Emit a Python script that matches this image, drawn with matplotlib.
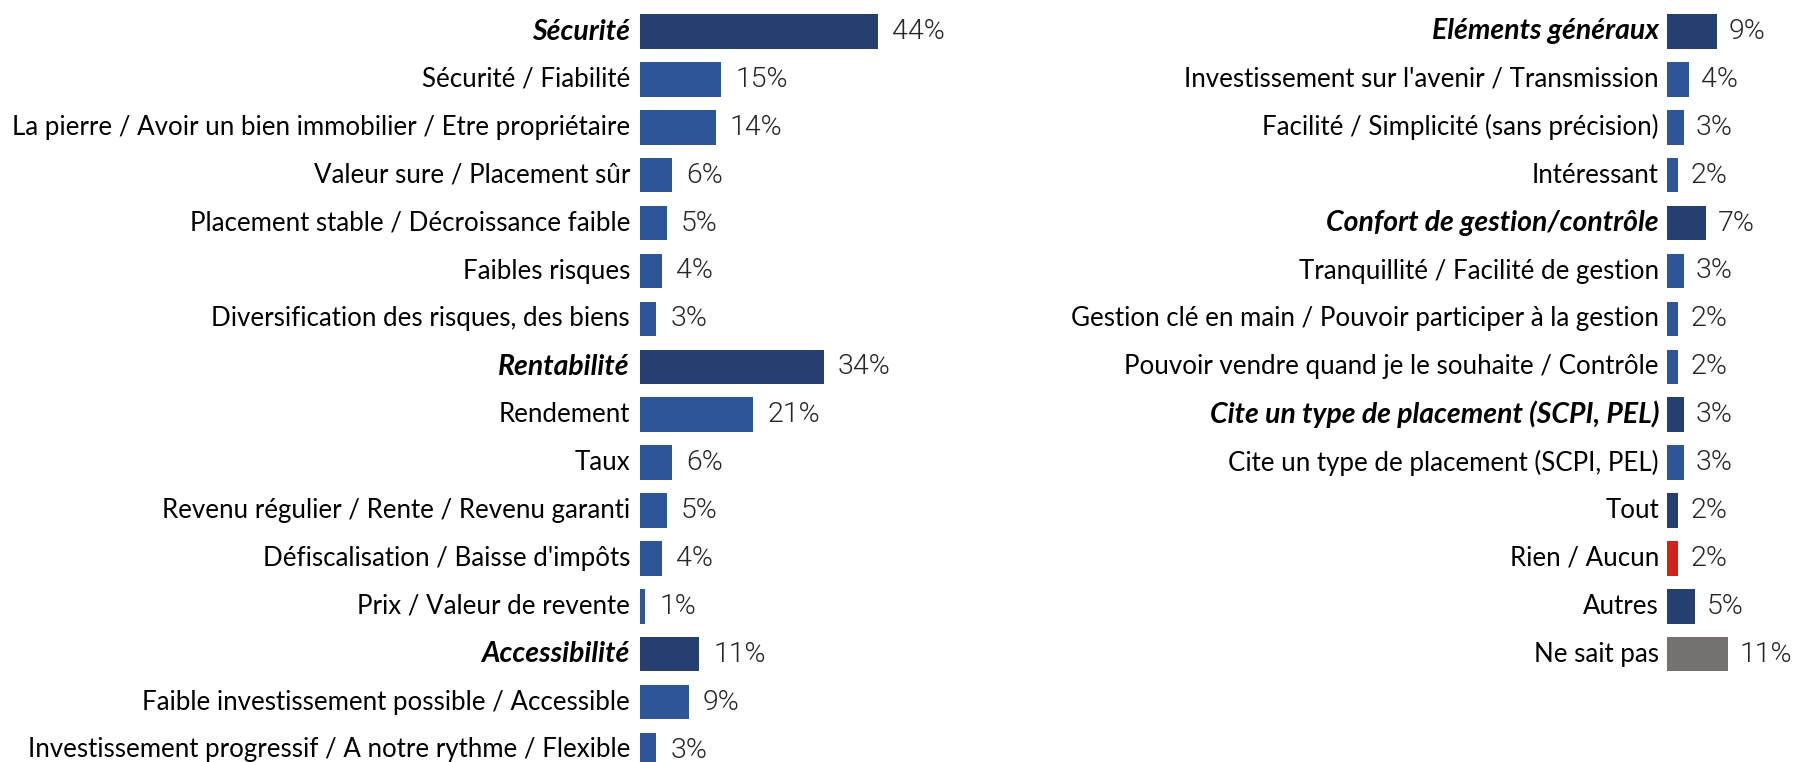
import matplotlib
matplotlib.use("Agg")
import matplotlib.pyplot as plt
from matplotlib import font_manager

names = {f.name for f in font_manager.fontManager.ttflist}
LABEL_FONT = "Lato" if "Lato" in names else "DejaVu Sans"
VALUE_FONT = "Roboto" if "Roboto" in names else "DejaVu Sans"

# ---------------- data ----------------
left_labels = [
    "Sécurité", "Sécurité / Fiabilité",
    "La pierre / Avoir un bien immobilier / Etre propriétaire",
    "Valeur sure / Placement sûr", "Placement stable / Décroissance faible",
    "Faibles risques", "Diversification des risques, des biens",
    "Rentabilité", "Rendement", "Taux", "Revenu régulier / Rente / Revenu garanti",
    "Défiscalisation / Baisse d'impôts", "Prix / Valeur de revente",
    "Accessibilité", "Faible investissement possible / Accessible",
    "Investissement progressif / A notre rythme / Flexible",
]
left_values = [44, 15, 14, 6, 5, 4, 3, 34, 21, 6, 5, 4, 1, 11, 9, 3]
left_kinds = ["cat", "sub", "sub", "sub", "sub", "sub", "sub",
              "cat", "sub", "sub", "sub", "sub", "sub",
              "cat", "sub", "sub"]

right_labels = [
    "Eléments généraux", "Investissement sur l'avenir / Transmission",
    "Facilité / Simplicité (sans précision)", "Intéressant",
    "Confort de gestion/contrôle", "Tranquillité / Facilité de gestion",
    "Gestion clé en main / Pouvoir participer à la gestion",
    "Pouvoir vendre quand je le souhaite / Contrôle",
    "Cite un type de placement (SCPI, PEL)", "Cite un type de placement (SCPI, PEL)",
    "Tout", "Rien / Aucun", "Autres", "Ne sait pas",
]
right_values = [9, 4, 3, 2, 7, 3, 2, 2, 3, 3, 2, 2, 5, 11]
right_kinds = ["cat", "sub", "sub", "sub", "cat", "sub", "sub", "sub",
               "cat", "sub", "other", "neg", "other", "dk"]

COLORS = {"cat": "#243F70", "sub": "#2E5597", "other": "#243F70",
          "neg": "#D42218", "dk": "#767171"}

# ---------------- layout ----------------
W, H = 1800, 762
fig = plt.figure(figsize=(W / 100, H / 100), dpi=100)

row0, step = 31.5, 47.9
ytop = -row0 / step
ybot = (H - row0) / step

def panel(x0_px, px_per_unit, xmax, labels, values, kinds, label_gap, val_gap):
    ax = fig.add_axes([x0_px / W, 0, xmax * px_per_unit / W, 1])
    ax.set_xlim(0, xmax)
    ax.set_ylim(ybot, ytop)
    ax.axis("off")
    ys = list(range(len(labels)))
    ax.barh(ys, values, height=0.72, color=[COLORS[k] for k in kinds])
    for y, lab, v, k in zip(ys, labels, values, kinds):
        bold = k == "cat"
        ax.annotate(lab, xy=(0, y), xytext=(-label_gap, 0), textcoords="offset pixels",
                    ha="right", va="center", fontsize=20.4 if bold else 18.6,
                    family=LABEL_FONT,
                    fontweight="bold" if bold else "normal",
                    fontstyle="italic" if bold else "normal", color="black",
                    annotation_clip=False)
        ax.annotate(f"{v}%", xy=(v, y), xytext=(val_gap, 0), textcoords="offset pixels",
                    ha="left", va="center", fontsize=20.5, family=VALUE_FONT,
                    fontweight=300, color="#262626", annotation_clip=False)
    return ax

panel(640, 5.4, 50, left_labels, left_values, left_kinds, 10, 14)
panel(1667, 5.5, 12, right_labels, right_values, right_kinds, 8, 12)

fig.savefig("out.png", dpi=100)
